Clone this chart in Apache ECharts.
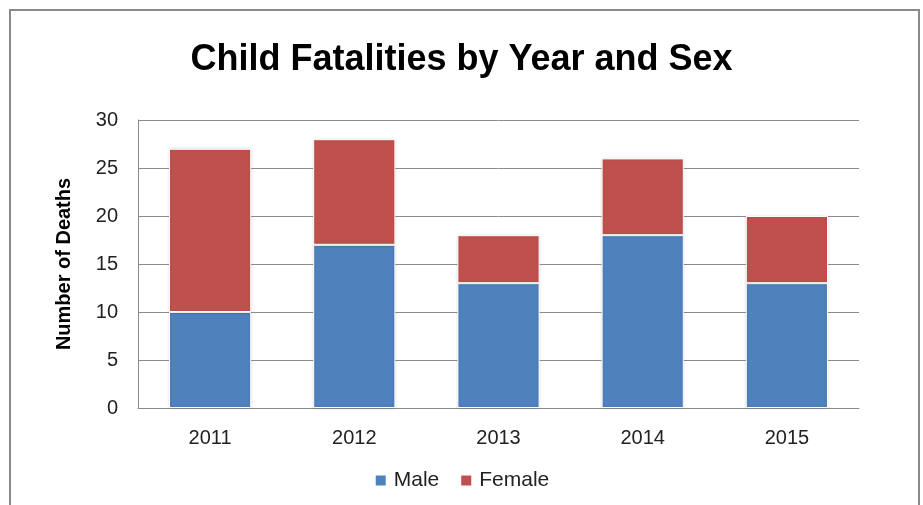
<!DOCTYPE html>
<html><head><meta charset="utf-8">
<script src="https://cdn.jsdelivr.net/npm/echarts@6/dist/echarts.min.js"></script>
<style>html,body{margin:0;padding:0;background:#fff}#c{width:923px;height:505px}</style>
</head><body><div id="c"></div>
<script>
const categories = ['2011','2012','2013','2014','2015'];
const maleValues = [10,17,13,18,13];
const femaleValues = [17,11,5,8,7];
const yTicks = {min:0,max:30,interval:5};

const chart = echarts.init(document.getElementById('c'));
const font = 'Liberation Sans';
chart.setOption({
  animation:false,
  backgroundColor:'#fff',
  title:{text:'Child Fatalities by Year and Sex',left:'center',top:37,
    textStyle:{fontFamily:font,fontWeight:'bold',fontSize:36,color:'#000'}},
  graphic:[{type:'rect',shape:{x:10,y:10,width:909,height:520},style:{fill:'none',stroke:'#8a8a8a',lineWidth:2},silent:true}],
  grid:{left:138,right:64,top:120,bottom:97},
  legend:{bottom:9,left:'center',itemWidth:12,itemHeight:12,itemGap:20,icon:'rect',
    textStyle:{fontFamily:font,fontSize:21,color:'#222',padding:[0,0,0,2]},data:['Male','Female']},
  xAxis:{type:'category',data:categories,
    axisLine:{lineStyle:{color:'#8c8c8c',width:1}},axisTick:{show:false},
    axisLabel:{fontFamily:font,fontSize:20,color:'#222',margin:20}},
  yAxis:{type:'value',min:yTicks.min,max:yTicks.max,interval:yTicks.interval,
    name:'Number of Deaths',nameLocation:'middle',nameGap:64,
    nameTextStyle:{fontFamily:font,fontWeight:'bold',fontSize:20,color:'#000'},
    axisLine:{show:true,lineStyle:{color:'#8c8c8c'}},axisTick:{show:false},
    splitLine:{lineStyle:{color:'#8c8c8c'}},
    axisLabel:{fontFamily:font,fontSize:20,color:'#222',margin:20}},
  series:[
    {name:'Male',type:'bar',stack:'t',data:maleValues,barWidth:'57%',
      itemStyle:{color:'#4F81BD',borderColor:'#fff',borderWidth:1,shadowColor:'rgba(0,0,0,0.15)',shadowBlur:3}},
    {name:'Female',type:'bar',stack:'t',data:femaleValues,barWidth:'57%',
      itemStyle:{color:'#C0504D',borderColor:'#fff',borderWidth:1,shadowColor:'rgba(0,0,0,0.15)',shadowBlur:3}}
  ]
});
</script></body></html>
